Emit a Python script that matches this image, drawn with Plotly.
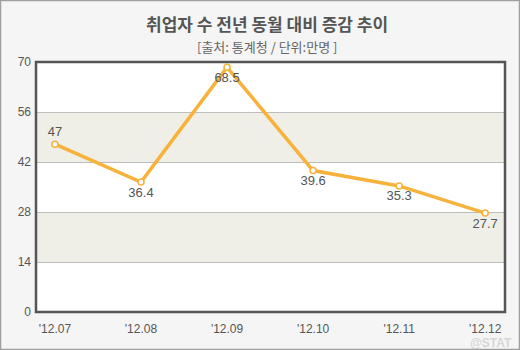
import plotly.graph_objects as go

months = ["'12.07", "'12.08", "'12.09", "'12.10", "'12.11", "'12.12"]
values = [47, 36.4, 68.5, 39.6, 35.3, 27.7]
label_pos = ["top center", "bottom center", "bottom center", "bottom center", "bottom center", "bottom center"]
y_ticks = [0, 14, 28, 42, 56, 70]
bands = [(14, 28), (42, 56)]

fig = go.Figure()

for lo, hi in bands:
    fig.add_shape(type="rect", xref="paper", yref="y", x0=0, x1=1, y0=lo, y1=hi,
                  fillcolor="#efefe8", line_width=0, layer="below")

x_idx = list(range(len(months)))
fig.add_trace(go.Scatter(
    x=x_idx, y=values, mode="lines+markers+text",
    line=dict(color="#f7b23b", width=3.5),
    marker=dict(size=6, color="white", line=dict(color="#f7b23b", width=1.5)),
    text=[f"{v:g}" for v in values], textposition=label_pos,
    textfont=dict(family="Liberation Sans, Arial, sans-serif", size=13, color="#555555"),
    cliponaxis=False, hoverinfo="skip", showlegend=False,
))

fig.update_xaxes(range=[-0.22, 5.23], tickmode="array", tickvals=x_idx, ticktext=months,
                 showgrid=False, zeroline=False, showline=False, ticks="",
                 tickfont=dict(family="Liberation Sans, Arial, sans-serif", size=12, color="#555555"),
                 ticklabelstandoff=8)
fig.update_yaxes(range=[0, 70], tickmode="array", tickvals=y_ticks,
                 showgrid=True, gridcolor="#bdbdbd", gridwidth=1, zeroline=False, showline=False, ticks="",
                 tickfont=dict(family="Liberation Sans, Arial, sans-serif", size=12, color="#555555"),
                 ticklabelstandoff=4)

# plot border
fig.add_shape(type="rect", xref="paper", yref="paper", x0=0, x1=1, y0=0, y1=1,
              line=dict(color="#555555", width=2.5), fillcolor="rgba(0,0,0,0)", layer="above")

fig.update_layout(
    width=520, height=350,
    margin=dict(l=36, r=15, t=62, b=38),
    paper_bgcolor="#f5f5f5", plot_bgcolor="white",
    annotations=[
        dict(text="<b>취업자 수 전년 동월 대비 증감 추이</b>", xref="paper", yref="paper",
             x=0.5, y=0, xanchor="center", yanchor="middle", showarrow=False,
             font=dict(family="Noto Sans CJK KR", size=17, color="#555555")),
        dict(text="[출처: 통계청 / 단위:만명 ]", xref="paper", yref="paper",
             x=0.5, y=0, xanchor="center", yanchor="middle", showarrow=False,
             font=dict(family="Noto Sans CJK KR", size=13, color="#666666")),
        dict(text="<b>@STAT</b>", xref="paper", yref="paper",
             x=0, y=0, xanchor="right", yanchor="middle", showarrow=False,
             font=dict(family="Liberation Sans, Arial, sans-serif", size=12, color="rgba(200,200,200,0.7)")),
    ],
)

plot_h = 350 - 62 - 38
plot_w = 520 - 36 - 15
def py(pix_y):
    return (350 - 38 - pix_y) / plot_h
def px(pix_x):
    return (pix_x - 36) / plot_w

fig.layout.annotations[0].update(y=py(23), x=px(267))
fig.layout.annotations[1].update(y=py(47), x=px(267))
fig.layout.annotations[2].update(y=py(343), x=px(514))

# outer border
fig.add_shape(type="rect", xref="paper", yref="paper", x0=px(0.5), x1=px(519.5), y0=py(0.5), y1=py(349.5),
              line=dict(color="#a0a0a0", width=1.5), fillcolor="rgba(0,0,0,0)", layer="above")

fig.write_html("out.html")
